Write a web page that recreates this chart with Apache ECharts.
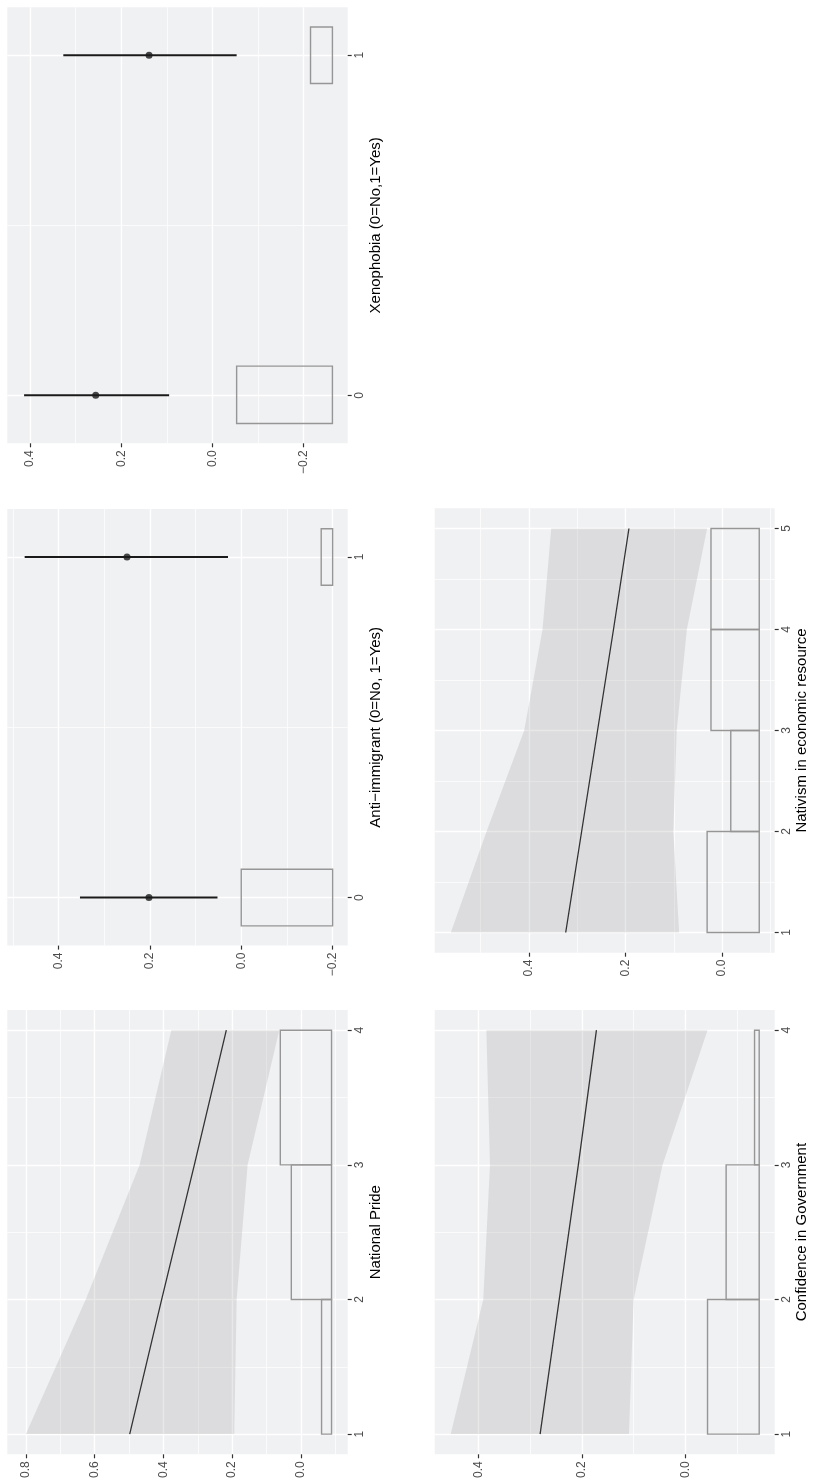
<!DOCTYPE html>
<html>
<head>
<meta charset="utf-8">
<script src="https://cdn.jsdelivr.net/npm/echarts@6/dist/echarts.min.js"></script>
<style>
html,body{margin:0;padding:0;background:#fff;}
#chart{width:813px;height:1484px;}
</style>
</head>
<body>
<div id="chart"></div>
<script>
// ---------- DATA ----------
// National Pride
const prideCats = [1, 2, 3, 4];
const prideFit = [0.498, 0.405, 0.310, 0.217];
const prideLower = [0.194, 0.187, 0.155, 0.063];
const prideUpper = [0.800, 0.626, 0.469, 0.377];
const prideBinStart = [1, 2, 3];
const prideBinEnd = [2, 3, 4];
const prideBinTop = [-0.060, 0.028, 0.060];
const prideBinBase = -0.089;
const prideValueTicks = [0.0, 0.2, 0.4, 0.6, 0.8];
const prideValueMinor = [-0.1, 0.1, 0.3, 0.5, 0.7];
const prideCatTicks = [1, 2, 3, 4];
const prideCatMinor = [1.5, 2.5, 3.5];

// Anti-immigrant
const antiCats = [0, 1];
const antiEst = [0.202, 0.250];
const antiLower = [0.052, 0.029];
const antiUpper = [0.353, 0.474];
const antiBinStart = [-0.083, 0.917];
const antiBinEnd = [0.083, 1.083];
const antiBinTop = [0.000, -0.175];
const antiBinBase = -0.200;
const antiValueTicks = [-0.2, 0.0, 0.2, 0.4];
const antiValueMinor = [-0.1, 0.1, 0.3, 0.5];
const antiCatTicks = [0, 1];
const antiCatMinor = [0.5];

// Xenophobia
const xenoCats = [0, 1];
const xenoEst = [0.256, 0.139];
const xenoLower = [0.095, -0.053];
const xenoUpper = [0.413, 0.327];
const xenoBinStart = [-0.083, 0.917];
const xenoBinEnd = [0.086, 1.083];
const xenoBinTop = [-0.053, -0.215];
const xenoBinBase = -0.263;
const xenoValueTicks = [-0.2, 0.0, 0.2, 0.4];
const xenoValueMinor = [-0.1, 0.1, 0.3];
const xenoCatTicks = [0, 1];
const xenoCatMinor = [0.5];

// Confidence in Government
const govCats = [1, 2, 3, 4];
const govFit = [0.281, 0.244, 0.207, 0.172];
const govLower = [0.109, 0.100, 0.044, -0.043];
const govUpper = [0.454, 0.391, 0.378, 0.385];
const govBinStart = [1, 2, 3];
const govBinEnd = [2, 3, 4];
const govBinTop = [-0.043, -0.079, -0.134];
const govBinBase = -0.143;
const govValueTicks = [0.0, 0.2, 0.4];
const govValueMinor = [-0.1, 0.1, 0.3];
const govCatTicks = [1, 2, 3, 4];
const govCatMinor = [1.5, 2.5, 3.5];

// Nativism in economic resource
const nativCats = [1, 2, 3, 4, 5];
const nativFit = [0.324, 0.291, 0.258, 0.225, 0.193];
const nativLower = [0.089, 0.101, 0.094, 0.073, 0.031];
const nativUpper = [0.562, 0.488, 0.410, 0.372, 0.354];
const nativBinStart = [1, 2, 3, 4];
const nativBinEnd = [2, 3, 4, 5];
const nativBinTop = [0.031, -0.018, 0.023, 0.023];
const nativBinBase = -0.077;
const nativValueTicks = [0.0, 0.2, 0.4];
const nativValueMinor = [-0.1, 0.1, 0.3, 0.5];
const nativCatTicks = [1, 2, 3, 4, 5];
const nativCatMinor = [1.5, 2.5, 3.5, 4.5];

const titles = {
  pride: 'National Pride',
  anti: 'Anti\u2212immigrant (0=No, 1=Yes)',
  xeno: 'Xenophobia (0=No,1=Yes)',
  gov: 'Confidence in Government',
  nativ: 'Nativism in economic resource'
};

// ---------- LAYOUT / STYLE ----------
const FONT = '"Liberation Sans", Arial, Helvetica, sans-serif';
const PANEL_BG = '#F0F1F3';
const BAND = 'rgba(140,140,140,0.2)';

const panels = [
  { kind: 'line', title: titles.pride, rect: [7.3, 1010, 340.4, 444.3], vMin: -0.136, vMax: 0.854, cMin: 0.85, cMax: 4.15,
    cats: prideCats, fit: prideFit, lo: prideLower, hi: prideUpper,
    bs: prideBinStart, be: prideBinEnd, bt: prideBinTop, bb: prideBinBase,
    vt: prideValueTicks, vm: prideValueMinor, ct: prideCatTicks, cm: prideCatMinor, gap: 21 },
  { kind: 'point', title: titles.anti, rect: [7.3, 509, 340.4, 436.6], vMin: -0.233, vMax: 0.512, cMin: -0.141, cMax: 1.141,
    cats: antiCats, fit: antiEst, lo: antiLower, hi: antiUpper,
    bs: antiBinStart, be: antiBinEnd, bt: antiBinTop, bb: antiBinBase,
    vt: antiValueTicks, vm: antiValueMinor, ct: antiCatTicks, cm: antiCatMinor, gap: 21 },
  { kind: 'point', title: titles.xeno, rect: [7.3, 7.3, 340.4, 436], vMin: -0.2965, vMax: 0.4498, cMin: -0.141, cMax: 1.141,
    cats: xenoCats, fit: xenoEst, lo: xenoLower, hi: xenoUpper,
    bs: xenoBinStart, be: xenoBinEnd, bt: xenoBinTop, bb: xenoBinBase,
    vt: xenoValueTicks, vm: xenoValueMinor, ct: xenoCatTicks, cm: xenoCatMinor, gap: 21 },
  { kind: 'line', title: titles.gov, rect: [434.7, 1010, 340, 444.3], vMin: -0.173, vMax: 0.485, cMin: 0.85, cMax: 4.15,
    cats: govCats, fit: govFit, lo: govLower, hi: govUpper,
    bs: govBinStart, be: govBinEnd, bt: govBinTop, bb: govBinBase,
    vt: govValueTicks, vm: govValueMinor, ct: govCatTicks, cm: govCatMinor, gap: 20 },
  { kind: 'line', title: titles.nativ, rect: [434.7, 508.3, 340, 444.4], vMin: -0.109, vMax: 0.5954, cMin: 0.8, cMax: 5.2,
    cats: nativCats, fit: nativFit, lo: nativLower, hi: nativUpper,
    bs: nativBinStart, be: nativBinEnd, bt: nativBinTop, bb: nativBinBase,
    vt: nativValueTicks, vm: nativValueMinor, ct: nativCatTicks, cm: nativCatMinor, gap: 20 }
];

function fmtVal(v) {
  const s = Math.abs(v).toFixed(1);
  return v < -1e-9 ? '\u2212' + s : s;
}

const grid = [], xAxis = [], yAxis = [], series = [];

panels.forEach((p, gi) => {
  grid.push({
    left: p.rect[0], top: p.rect[1], width: p.rect[2], height: p.rect[3],
    containLabel: false, outerBoundsMode: 'none',
    show: true, backgroundColor: PANEL_BG, borderWidth: 0
  });
  const xi = xAxis.length, yi = yAxis.length;
  // major value axis (horizontal, reversed)
  xAxis.push({
    type: 'value', gridIndex: gi, inverse: true, min: p.vMin, max: p.vMax, position: 'bottom',
    axisLine: { show: false, onZero: false },
    axisTick: { show: true, customValues: p.vt, length: 4, lineStyle: { color: '#333333', width: 1.2 } },
    axisLabel: { show: true, customValues: p.vt, rotate: 90, margin: 7, color: '#4D4D4D', fontSize: 12, fontFamily: FONT, formatter: fmtVal },
    splitLine: { show: true, lineStyle: { color: '#FFFFFF', width: 1.4 } }
  });
  // minor value gridlines
  xAxis.push({
    type: 'value', gridIndex: gi, inverse: true, min: p.vMin, max: p.vMax, position: 'top',
    axisLine: { show: false, onZero: false },
    axisTick: { show: false, customValues: p.vm },
    axisLabel: { show: false, customValues: p.vm },
    splitLine: { show: true, lineStyle: { color: '#FFFFFF', width: 0.7 } }
  });
  // major category axis (vertical, on right)
  yAxis.push({
    type: 'value', gridIndex: gi, min: p.cMin, max: p.cMax, position: 'right',
    name: p.title, nameLocation: 'middle', nameGap: p.gap, nameRotate: 90,
    nameTextStyle: { color: '#000000', fontSize: 15, fontFamily: FONT },
    axisLine: { show: false, onZero: false },
    axisTick: { show: true, customValues: p.ct, length: 4, lineStyle: { color: '#333333', width: 1.2 } },
    axisLabel: { show: true, customValues: p.ct, rotate: 90, margin: 6, color: '#4D4D4D', fontSize: 12, fontFamily: FONT },
    splitLine: { show: true, lineStyle: { color: '#FFFFFF', width: 1.4 } }
  });
  yAxis.push({
    type: 'value', gridIndex: gi, min: p.cMin, max: p.cMax, position: 'left',
    axisLine: { show: false, onZero: false },
    axisTick: { show: false, customValues: p.cm },
    axisLabel: { show: false, customValues: p.cm },
    splitLine: { show: true, lineStyle: { color: '#FFFFFF', width: 0.7 } }
  });

  // histogram boxes
  const binRows = p.bs.map((s, i) => [s, p.be[i], p.bt[i], p.bb]);
  series.push({
    type: 'custom', xAxisIndex: xi, yAxisIndex: yi, z: 3, silent: true,
    data: binRows,
    encode: { x: [2, 3], y: [0, 1] },
    renderItem: function (params, api) {
      const a = api.coord([api.value(2), api.value(1)]);
      const b = api.coord([api.value(3), api.value(0)]);
      return {
        type: 'rect',
        shape: { x: Math.min(a[0], b[0]), y: Math.min(a[1], b[1]), width: Math.abs(b[0] - a[0]), height: Math.abs(b[1] - a[1]) },
        style: { fill: 'none', stroke: '#969696', lineWidth: 1.4 }
      };
    }
  });

  if (p.kind === 'line') {
    const bandRows = p.cats.map((c, i) => [c, p.lo[i], p.hi[i]]);
    series.push({
      type: 'custom', xAxisIndex: xi, yAxisIndex: yi, z: 2, silent: true,
      data: bandRows,
      encode: { x: [1, 2], y: 0 },
      renderItem: function (params, api) {
        if (params.dataIndex !== 0) return null;
        const pts = [];
        bandRows.forEach(r => pts.push(api.coord([r[1], r[0]])));
        bandRows.slice().reverse().forEach(r => pts.push(api.coord([r[2], r[0]])));
        return { type: 'polygon', shape: { points: pts }, style: { fill: BAND } };
      }
    });
    series.push({
      type: 'line', xAxisIndex: xi, yAxisIndex: yi, z: 4, silent: true,
      data: p.cats.map((c, i) => [p.fit[i], c]),
      showSymbol: false, symbol: 'none',
      lineStyle: { color: '#333333', width: 1.3 }
    });
  } else {
    const ebRows = p.cats.map((c, i) => [c, p.lo[i], p.hi[i]]);
    series.push({
      type: 'custom', xAxisIndex: xi, yAxisIndex: yi, z: 4, silent: true,
      data: ebRows,
      encode: { x: [1, 2], y: 0 },
      renderItem: function (params, api) {
        const a = api.coord([api.value(1), api.value(0)]);
        const b = api.coord([api.value(2), api.value(0)]);
        return { type: 'line', shape: { x1: a[0], y1: a[1], x2: b[0], y2: b[1] }, style: { stroke: '#1A1A1A', lineWidth: 2 } };
      }
    });
    series.push({
      type: 'scatter', xAxisIndex: xi, yAxisIndex: yi, z: 5, silent: true,
      data: p.cats.map((c, i) => [p.fit[i], c]),
      symbol: 'circle', symbolSize: 7,
      itemStyle: { color: '#1A1A1A' }
    });
  }
});

const chart = echarts.init(document.getElementById('chart'), null, { renderer: 'canvas' });
chart.setOption({
  animation: false,
  backgroundColor: '#FFFFFF',
  grid: grid,
  xAxis: xAxis,
  yAxis: yAxis,
  series: series
});
</script>
</body>
</html>
